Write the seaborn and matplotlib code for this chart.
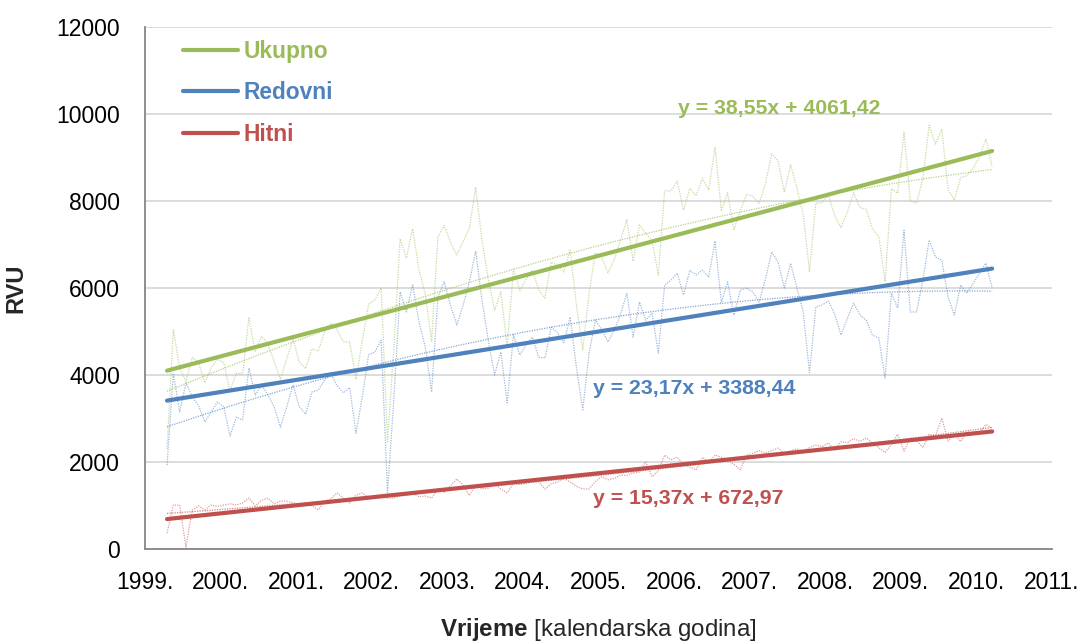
import numpy as np
import pandas as pd
import matplotlib
matplotlib.use("Agg")
import matplotlib.pyplot as plt
import seaborn as sns

# monthly RVU, April 1999 - March 2010
redovni = [
    1930, 4040, 3150, 3820, 3500, 3300, 2920, 3150, 3380, 3270, 2600, 3030,
    2970, 4160, 3540, 3770, 3550, 3270, 2800, 3270, 3770, 3270, 3100, 3610,
    3650, 3880, 4040, 3750, 3590, 3710, 2660, 3500, 4460, 4530, 4800, 1290,
    3430, 5910, 5450, 6070, 5220, 4640, 3610, 5790, 6140, 5600, 5150, 5600,
    6140, 6850, 5720, 4800, 4000, 4530, 3360, 4920, 4460, 4690, 4870, 4410,
    4390, 5100, 4970, 4740, 5330, 4160, 3200, 4500, 5260, 5050, 4760, 5030,
    5400, 5880, 4870, 5680, 5260, 5420, 4500, 6070, 6180, 6340, 5840, 6410,
    6300, 6410, 6250, 7080, 5660, 6140, 5380, 5950, 6000, 5910, 5680, 6200,
    6830, 6600, 6000, 6570, 6000, 5450, 4050, 5560, 5610, 5700, 5400, 4920,
    5300, 5650, 5380, 5260, 4920, 4850, 3930, 5880, 5540, 7330, 5450, 5450,
    6180, 7100, 6710, 6640, 5790, 5380, 6070, 5880, 6110, 6340, 6570, 6000,
]
hitni = [
    370, 1010, 1010, 40, 900, 990, 900, 1010, 980, 1010, 1040, 1010,
    1060, 1170, 990, 1120, 1170, 1040, 1100, 1100, 1060, 1030, 1050, 990,
    900, 1100, 1150, 1290, 1170, 1050, 1240, 1290, 1170, 1200, 1200, 1170,
    1170, 1220, 1240, 1290, 1200, 1220, 1170, 1380, 1300, 1450, 1610, 1470,
    1230, 1470, 1380, 1400, 1490, 1380, 1290, 1510, 1480, 1510, 1540, 1550,
    1380, 1500, 1540, 1630, 1540, 1440, 1380, 1380, 1550, 1660, 1590, 1620,
    1700, 1690, 1750, 1770, 2000, 1660, 1800, 2160, 2050, 2110, 1950, 1880,
    1820, 2110, 2000, 2160, 2110, 2050, 1950, 1820, 2160, 2200, 2260, 2200,
    2260, 2320, 2200, 2260, 2300, 2250, 2330, 2390, 2350, 2440, 2260, 2470,
    2440, 2540, 2470, 2550, 2440, 2330, 2220, 2400, 2640, 2250, 2550, 2500,
    2330, 2640, 2600, 3010, 2480, 2640, 2470, 2700, 2650, 2680, 2860, 2780,
]

series_names = ["Ukupno", "Redovni", "Hitni"]
colors = {"Ukupno": "#9BBB59", "Redovni": "#4F81BD", "Hitni": "#C0504D"}
# linear trend equations shown on the chart (x = month number)
slopes = {"Ukupno": 38.55, "Redovni": 23.17, "Hitni": 15.37}
intercepts = {"Ukupno": 4061.42, "Redovni": 3388.44, "Hitni": 672.97}
eq_labels = {"Ukupno": "y = 38,55x + 4061,42",
             "Redovni": "y = 23,17x + 3388,44",
             "Hitni": "y = 15,37x + 672,97"}
eq_pos = {"Ukupno": (2006.05, 10120), "Redovni": (2004.93, 3700), "Hitni": (2004.93, 1150)}
year_ticks = list(range(1999, 2012))

n = len(redovni)
month_no = np.arange(1, n + 1)
years = 1999 + (2.5 + month_no) / 12.0
df = pd.DataFrame({"Redovni": redovni, "Hitni": hitni})
df["Ukupno"] = df["Redovni"] + df["Hitni"]
df["godina"] = years
df["mjesec"] = month_no

sns.set_theme(style="white")
plt.rcParams["font.family"] = ["Liberation Sans", "DejaVu Sans"]
plt.rcParams["mathtext.fontset"] = "custom"
plt.rcParams["mathtext.bf"] = "Liberation Sans:bold"
plt.rcParams["mathtext.rm"] = "Liberation Sans"

fig = plt.figure(figsize=(10.8, 6.44), dpi=100)
ax = fig.add_axes([145 / 1080, 1 - 549 / 644, 907 / 1080, 522 / 644])

for name in series_names:
    c = colors[name]
    # raw monthly data, thin dotted
    sns.lineplot(x=df["godina"], y=df[name], ax=ax, color=c, lw=0.9,
                 linestyle=(0, (1, 1)), alpha=0.55, zorder=2)
    # polynomial trend, thin dotted
    sns.regplot(x=df["godina"], y=df[name], ax=ax, order=2, ci=None, scatter=False,
                truncate=True, color=c,
                line_kws={"lw": 0.9, "linestyle": (0, (1, 1)), "alpha": 0.7, "zorder": 3})

for name in series_names:
    trend = slopes[name] * df["mjesec"] + intercepts[name]
    ax.plot(df["godina"], trend, color=colors[name], lw=3.0, solid_capstyle="round",
            label=name, zorder=5)
    ex, ey = eq_pos[name]
    ax.text(ex, ey, eq_labels[name], color=colors[name], fontsize=15.3,
            fontweight="bold", va="center", ha="left", zorder=6)

ax.set_xlim(1999, 2011)
ax.set_ylim(0, 12000)
ax.set_xticks(year_ticks)
ax.set_xticklabels([f"{y}." for y in year_ticks])
ax.set_yticks(range(0, 12001, 2000))
ax.yaxis.grid(True, color="#D9D9D9", lw=1.3)
ax.xaxis.grid(False)
ax.set_axisbelow(True)
for s in ["top", "right"]:
    ax.spines[s].set_visible(False)
for s in ["left", "bottom"]:
    ax.spines[s].set_color("#868686")
    ax.spines[s].set_linewidth(1.3)
ax.tick_params(axis="both", which="major", direction="out", length=5, width=1.3,
               color="#868686", labelsize=16.5, labelcolor="black")
ax.tick_params(axis="y", pad=13)
ax.tick_params(axis="x", pad=11)

ax.set_ylabel("RVU", fontsize=17, fontweight="bold", labelpad=21)
ax.set_xlabel(r"$\bf{Vrijeme}$ [kalendarska godina]", fontsize=17.4, labelpad=16)
ax.set_title("")

leg = ax.legend(loc="upper left", bbox_to_anchor=(0.042, 0.976), frameon=False,
                labelcolor="linecolor", prop={"weight": "bold", "size": 16.4},
                handlelength=2.4, handletextpad=0.25, labelspacing=0.83, borderpad=0,
                borderaxespad=0)

fig.savefig("out.png", dpi=100)
